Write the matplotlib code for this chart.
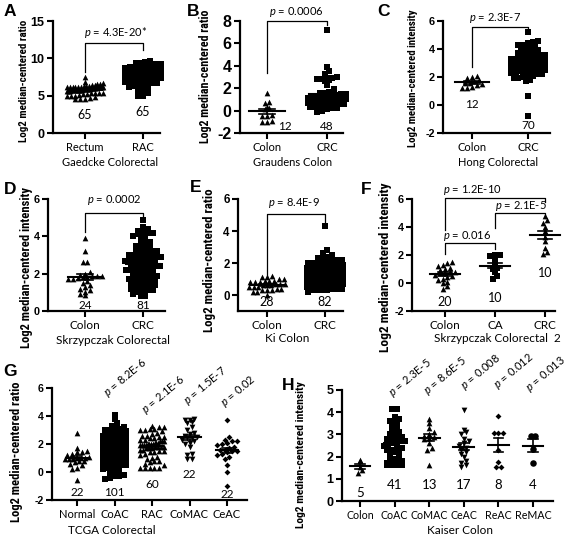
import numpy as np
import matplotlib.pyplot as plt

plt.rcParams['font.family'] = ['Lato', 'DejaVu Sans']
plt.rcParams['mathtext.fontset'] = 'custom'
plt.rcParams['mathtext.rm'] = 'Lato'
plt.rcParams['mathtext.it'] = 'Lato:italic'
plt.rcParams['mathtext.bf'] = 'Lato:bold'

# ---------------- data ----------------
A_groups = ['Rectum', 'RAC']
A_rectum = [7.5, 6.8, 6.7, 6.6, 6.5, 6.4, 6.4, 6.3, 6.3, 6.3, 6.2, 6.2, 6.2, 6.2, 6.2, 6.2,
            6.1, 6.1, 6.1, 6.1, 6.1, 6.1, 6.0, 6.0, 6.0, 6.0, 6.0, 6.0, 5.9, 5.9, 5.9, 5.9,
            5.9, 5.9, 5.9, 5.8, 5.8, 5.8, 5.8, 5.8, 5.8, 5.7, 5.7, 5.7, 5.7, 5.7, 5.6, 5.6,
            5.6, 5.6, 5.4, 5.4, 5.4, 5.3, 5.2, 5.2, 5.1, 5.0, 5.0, 4.9, 4.8, 4.7, 4.6, 4.6, 4.5]
A_rac = [9.6, 9.5, 9.4, 9.4, 9.3, 9.3, 9.3, 9.2, 9.2, 9.2, 9.1, 9.0, 9.0, 9.0, 8.9, 8.8,
         8.8, 8.7, 8.7, 8.6, 8.6, 8.5, 8.5, 8.4, 8.4, 8.3, 8.3, 8.2, 8.2, 8.1, 8.0, 8.0,
         7.9, 7.9, 7.8, 7.8, 7.7, 7.6, 7.6, 7.5, 7.5, 7.4, 7.3, 7.3, 7.2, 7.1, 7.1, 7.0,
         7.0, 6.9, 6.8, 6.7, 6.7, 6.6, 6.5, 6.4, 6.3, 6.2, 6.0, 5.8, 5.6, 5.3, 5.0, 4.9, 8.0]

B_groups = ['Colon', 'CRC']
B_colon = [1.6, 0.8, 0.7, 0.3, 0.2, 0.1, -0.5, -0.5, -0.4, -1.0, -1.0, -0.9]
B_crc = [7.2, 3.9, 3.5, 3.3, 3.0, 2.9, 2.9, 2.8, 2.8, 2.7, 2.6, 2.3, 1.9, 1.6, 1.4, 1.2,
         1.1, 1.0, 0.9, 0.8, 1.7, 1.6, 1.5, 1.5, 1.4, 1.3, 1.3, 1.2, 1.1, 1.0, 1.0, 0.9,
         0.9, 0.8, 0.7, 0.6, 0.6, 0.5, 0.4, 0.4, 0.3, 0.3, 0.3, 0.2, 0.2, 0.1, 0.0, -0.1]

C_groups = ['Colon', 'CRC']
C_colon = [2.1, 2.0, 1.9, 1.8, 1.7, 1.6, 1.6, 1.5, 1.4, 1.3, 1.2, 1.2]
C_crc = [5.2, 4.6, 4.5, 4.4, 4.3, 4.3, 4.2, 4.1, 4.0, 4.0, 3.9, 3.8, 3.8, 3.7, 3.6, 3.6,
         3.5, 3.5, 3.4, 3.4, 3.3, 3.3, 3.3, 3.2, 3.2, 3.2, 3.1, 3.1, 3.1, 3.1, 3.0, 3.0,
         3.0, 3.0, 2.9, 2.9, 2.9, 2.9, 2.8, 2.8, 2.8, 2.8, 2.7, 2.7, 2.7, 2.7, 2.6, 2.6,
         2.6, 2.5, 2.5, 2.5, 2.4, 2.4, 2.3, 2.3, 2.2, 2.2, 2.1, 2.0, 1.9, 1.8, 1.7, 1.9,
         2.1, 2.4, 3.5, 3.8, 0.65, -0.8]

D_groups = ['Colon', 'CRC']
D_colon = [3.9, 3.2, 2.6, 2.6, 2.1, 2.0, 1.95, 1.9, 1.9, 1.85, 1.8, 1.8, 1.75, 1.7, 1.7,
           1.6, 1.5, 1.4, 1.3, 1.2, 1.1, 1.0, 0.9, 0.85]
D_crc = [4.9, 4.5, 4.4, 4.3, 4.3, 4.2, 4.2, 4.1, 4.1, 4.0, 3.9, 3.8, 3.7, 3.6, 3.5, 3.5,
         3.4, 3.4, 3.3, 3.3, 3.2, 3.2, 3.1, 3.1, 3.0, 3.0, 3.0, 2.9, 2.9, 2.9, 2.8, 2.8,
         2.8, 2.7, 2.7, 2.7, 2.6, 2.6, 2.6, 2.5, 2.5, 2.5, 2.4, 2.4, 2.4, 2.3, 2.3, 2.3,
         2.2, 2.2, 2.1, 2.1, 2.0, 2.0, 2.0, 1.9, 1.9, 1.8, 1.8, 1.8, 1.7, 1.7, 1.6, 1.6,
         1.6, 1.5, 1.5, 1.5, 1.4, 1.4, 1.3, 1.3, 1.2, 1.2, 1.1, 1.1, 1.0, 1.0, 0.9, 0.8, 0.8]

E_groups = ['Colon', 'CRC']
E_colon = [1.2, 1.1, 1.1, 1.0, 1.0, 0.9, 0.9, 0.9, 0.8, 0.8, 0.8, 0.7, 0.7, 0.7, 0.6, 0.6,
           0.6, 0.5, 0.5, 0.5, 0.4, 0.4, 0.3, 0.3, 0.3, 0.2, 0.2, 0.0]
E_crc = [4.3, 2.8, 2.6, 2.5, 2.4, 2.3, 2.3, 2.2, 2.2, 2.2, 2.1, 2.1, 2.0, 2.0, 2.0, 1.9,
         1.9, 1.9, 1.8, 1.8, 1.8, 1.8, 1.7, 1.7, 1.7, 1.7, 1.6, 1.6, 1.6, 1.6, 1.5, 1.5,
         1.5, 1.5, 1.5, 1.4, 1.4, 1.4, 1.4, 1.4, 1.3, 1.3, 1.3, 1.3, 1.2, 1.2, 1.2, 1.2,
         1.1, 1.1, 1.1, 1.1, 1.0, 1.0, 1.0, 1.0, 0.9, 0.9, 0.9, 0.9, 0.8, 0.8, 0.8, 0.7,
         0.7, 0.7, 0.7, 0.6, 0.6, 0.6, 0.6, 0.5, 0.5, 0.5, 0.4, 0.4, 0.4, 0.3, 0.3, 0.3,
         0.3, 0.2]

F_groups = ['Colon', 'CA', 'CRC']
F_colon = [1.5, 1.4, 1.3, 1.2, 1.1, 1.0, 0.9, 0.8, 0.8, 0.7, 0.7, 0.6, 0.5, 0.4, 0.3,
           0.2, 0.1, 0.0, -0.2, -0.4]
F_ca = [2.0, 2.0, 1.9, 1.6, 1.3, 1.1, 1.0, 0.8, 0.5, 0.3]
F_crc = [4.8, 4.5, 4.3, 4.0, 3.7, 3.3, 3.0, 2.5, 2.2, 2.1]

G_groups = ['Normal', 'CoAC', 'RAC', 'CoMAC', 'CeAC']
G_normal = [2.8, 1.7, 1.5, 1.4, 1.4, 1.3, 1.2, 1.1, 1.0, 1.0, 1.0, 0.9, 0.9, 0.9, 0.8, 0.8,
            0.7, 0.6, 0.5, 0.3, 0.2, -0.6]
G_coac = [4.1, 3.8, 3.5, 3.3, 3.2, 3.1, 3.1, 3.0, 3.0, 2.9, 2.9, 2.8, 2.8, 2.7, 2.7, 2.6,
          2.6, 2.5, 2.5, 2.5, 2.4, 2.4, 2.4, 2.3, 2.3, 2.3, 2.2, 2.2, 2.2, 2.2, 2.1, 2.1,
          2.1, 2.1, 2.0, 2.0, 2.0, 2.0, 1.9, 1.9, 1.9, 1.9, 1.9, 1.8, 1.8, 1.8, 1.8, 1.8,
          1.7, 1.7, 1.7, 1.7, 1.7, 1.6, 1.6, 1.6, 1.6, 1.5, 1.5, 1.5, 1.5, 1.4, 1.4, 1.4,
          1.4, 1.3, 1.3, 1.3, 1.2, 1.2, 1.2, 1.1, 1.1, 1.1, 1.0, 1.0, 1.0, 0.9, 0.9, 0.8,
          0.8, 0.8, 0.7, 0.7, 0.6, 0.6, 0.5, 0.5, 0.4, 0.3, 0.3, 0.2, 0.1, 0.0, -0.1, -0.2,
          -0.3, -0.3, -0.5, -0.4, 2.9]
G_rac = [3.3, 3.2, 3.2, 3.1, 3.1, 3.0, 3.0, 2.9, 2.8, 2.7, 2.6, 2.6, 2.5, 2.5, 2.4, 2.4,
         2.3, 2.3, 2.2, 2.2, 2.2, 2.1, 2.1, 2.1, 2.0, 2.0, 2.0, 2.0, 1.9, 1.9, 1.9, 1.9,
         1.8, 1.8, 1.8, 1.8, 1.7, 1.7, 1.7, 1.6, 1.6, 1.5, 1.5, 1.4, 1.4, 1.3, 1.2, 1.1,
         1.0, 0.9, 0.8, 0.8, 0.7, 0.6, 0.5, 0.3, 0.3, 0.3, 0.3, 0.3]
G_comac = [3.8, 3.7, 3.7, 3.6, 3.5, 3.2, 3.0, 2.8, 2.7, 2.6, 2.5, 2.4, 2.4, 2.3, 2.2, 2.1,
           2.0, 1.8, 1.3, 1.2, 0.9, 0.9]
G_ceac = [3.7, 2.5, 2.3, 2.2, 2.2, 2.1, 2.0, 1.9, 1.8, 1.7, 1.6, 1.6, 1.5, 1.5, 1.4, 1.3,
          1.2, 1.1, 0.9, 0.5, 0.0, -1.0]

H_groups = ['Colon', 'CoAC', 'CoMAC', 'CeAC', 'ReAC', 'ReMAC']
H_colon = [1.85, 1.8, 1.55, 1.4, 1.25]
H_coac = [4.15, 4.15, 3.8, 3.7, 3.65, 3.6, 3.5, 3.4, 3.3, 3.2, 3.1, 3.0, 3.0, 2.9, 2.9,
          2.8, 2.8, 2.7, 2.7, 2.6, 2.6, 2.5, 2.5, 2.4, 2.4, 2.3, 2.3, 2.2, 2.2, 2.1, 2.0,
          1.9, 1.9, 1.8, 1.8, 1.7, 1.7, 1.6, 1.6, 1.6, 1.6]
H_comac = [3.7, 3.5, 3.3, 3.1, 3.0, 2.95, 2.9, 2.85, 2.8, 2.6, 2.4, 2.3, 1.6]
H_ceac = [4.1, 3.2, 3.1, 3.0, 2.8, 2.7, 2.6, 2.5, 2.4, 2.3, 2.2, 2.1, 2.0, 1.8, 1.7, 1.6, 1.55]
H_reac = [3.85, 3.05, 3.05, 3.05, 2.3, 1.75, 1.55, 1.55]
H_remac = [2.95, 2.95, 2.35, 1.7]

# ---------------- layout (pixels of a 569x536 canvas) ----------------
W, H = 569, 536
fig = plt.figure(figsize=(W / 100, H / 100), dpi=100)
YLAB_FONT = ['Roboto Condensed', 'Liberation Sans Narrow', 'DejaVu Sans']

panels = [
    dict(letter='A', lp=(10, 12), box=(53, 21, 160, 133), p0=85, step=58, ylim=(0, 15),
         yticks=[0, 5, 10, 15], ysize=9, groups=A_groups, data=[A_rectum, A_rac],
         markers=['^', 's'], nlab=[(0, 2.4), (0, 2.8)], nsize=9,
         ylabel='Log2 median-centered ratio', yl=(24, 81, 123),
         xlabel='Gaedcke Colorectal', xl=(110, 162), xsize=8, xlsize=8,
         brackets=[(0, 1, 8.2, 12.0, 11.1)], ptext=[(0.52, 13.4, '$p$ = 4.3E-20*')]),
    dict(letter='B', lp=(193, 12), box=(240, 21, 343, 133), p0=267, step=60, ylim=(-2, 8),
         yticks=[-2, 0, 2, 4, 6, 8], ysize=11.5, groups=B_groups, data=[B_colon, B_crc],
         markers=['^', 's'], nlab=[(0.3, -1.4), (0, -1.4)], nsize=8.5,
         ylabel='Log2 median-centered ratio', yl=(205, 76, 134),
         xlabel='Graudens Colon', xl=(293, 162), xsize=8, xlsize=8,
         brackets=[(0, 1, 3.36, 8.0, 7.6)], ptext=[(0.48, 8.8, '$p$ = 0.0006')]),
    dict(letter='C', lp=(383, 12), box=(443, 21, 550, 133), p0=472, step=56, ylim=(-2, 6),
         yticks=[-2, 0, 2, 4, 6], ysize=7.8, groups=C_groups, data=[C_colon, C_crc],
         markers=['^', 's'], nlab=[(0, 0.0), (0, -1.43)], nsize=8.5,
         ylabel='Log2 median-centered intensity', yl=(413, 78, 139),
         xlabel='Hong Colorectal', xl=(498, 162), xsize=8, xlsize=8,
         brackets=[(0, 1, 2.71, 5.57, 5.2)], ptext=[(0.41, 6.2, '$p$ = 2.3E-7')]),
    dict(letter='D', lp=(10, 189), box=(48, 199, 165, 311), p0=85, step=58, ylim=(0, 6),
         yticks=[0, 2, 4, 6], ysize=7.8, groups=D_groups, data=[D_colon, D_crc],
         markers=['^', 's'], nlab=[(0, 0.27), (0, 0.27)], nsize=8.5,
         ylabel='Log2 median-centered intensity', yl=(27, 267, 161),
         xlabel='Skrzypczak Colorectal', xl=(113, 340), xsize=8.5, xlsize=8.5,
         brackets=[(0, 1, 4.23, 5.25, 4.98)], ptext=[(0.5, 5.95, '$p$ = 0.0002')]),
    dict(letter='E', lp=(196, 188), box=(238, 199, 343, 311), p0=267, step=58, ylim=(-1, 6),
         yticks=[0, 2, 4, 6], ysize=8.3, groups=E_groups, data=[E_colon, E_crc],
         markers=['^', 's'], nlab=[(0, -0.44), (0, -0.44)], nsize=9,
         ylabel='Log2 median-centered ratio', yl=(210, 260, 144),
         xlabel='Ki Colon', xl=(287, 339), xsize=8.5, xlsize=8.5,
         brackets=[(0, 1, 1.06, 5.06, 4.375)], ptext=[(0.47, 5.75, '$p$ = 8.4E-9')]),
    dict(letter='F', lp=(366, 189), box=(412, 199, 555, 311), p0=445, step=50, ylim=(-2, 6),
         yticks=[-2, 0, 2, 4, 6], ysize=7.8, groups=F_groups, data=[F_colon, F_ca, F_crc],
         markers=['^', 's', '^'], nlab=[(0, -1.36), (0, -1.07), (0, 0.71)], nsize=9,
         ylabel='Log2 median-centered intensity', yl=(386, 267, 170),
         xlabel='Skrzypczak Colorectal  2', xl=(497, 339), xsize=8.5, xlsize=8.5,
         brackets=[(0, 1, 2.07, 2.86, 2.43), (0, 2, 3.79, 6.07, 5.79), (1, 2, 3.93, 5.0, 4.64)],
         ptext=[(0.44, 3.36, '$p$ = 0.016'), (0.54, 6.64, '$p$ = 1.2E-10'),
                (1.52, 5.5, '$p$ = 2.1E-5')]),
    dict(letter='G', lp=(10, 372), box=(52, 388, 247, 500), p0=77, step=37.5, ylim=(-2, 6),
         yticks=[-2, 0, 2, 4, 6], ysize=7.6, groups=G_groups,
         data=[G_normal, G_coac, G_rac, G_comac, G_ceac],
         markers=['^', 's', '^', 'v', 'D'],
         nlab=[(0, -1.5), (0, -1.5), (0, -0.86), (0, -0.21), (0, -1.64)], nsize=8.5,
         ylabel='Log2 median-centered ratio', yl=(17, 452, 140),
         xlabel='TCGA Colorectal', xl=(112, 530), xsize=8, xlsize=8.5,
         brackets=[], ptext=[],
         rot=[(0.88, 5.14, '$p$ = 8.2E-6'), (1.89, 3.93, '$p$ = 2.1E-6'),
              (3.0, 4.57, '$p$ = 1.5E-7'), (4.0, 4.43, '$p$ = 0.02')]),
    dict(letter='H', lp=(288, 385), box=(342, 390, 553, 501), p0=360, step=34.6, ylim=(0, 5),
         yticks=[0, 1, 2, 3, 4, 5], ysize=9, groups=H_groups,
         data=[H_colon, H_coac, H_comac, H_ceac, H_reac, H_remac],
         markers=['^', 's', '^', 'v', 'D', 'o'],
         nlab=[(0, 0.36), (0, 0.72), (0, 0.72), (0, 0.72), (0, 0.72), (0, 0.72)], nsize=9.5,
         ylabel='Log2 median-centered intensity', yl=(301, 455, 146),
         xlabel='Kaiser Colon', xl=(460, 530), xsize=7.7, xlsize=8.5,
         brackets=[], ptext=[],
         rot=[(1.01, 4.55, '$p$ = 2.3E-5'), (2.02, 4.64, '$p$ = 8.6E-5'),
              (3.09, 4.86, '$p$ = 0.008'), (4.05, 4.91, '$p$ = 0.012'),
              (4.97, 4.77, '$p$ = 0.013')]),
]

MSIZE = {'s': 13, '^': 17, 'v': 17, 'D': 9, 'o': 22}
renderer = fig.canvas.get_renderer()


def swarm(ax, xc, vals, marker, px_x, px_y, max_w, mk=4.8):
    vals = np.asarray(vals, float)
    rows = np.round(vals * px_y / mk).astype(int)
    xs = np.empty_like(vals)
    for r in np.unique(rows):
        idx = np.where(rows == r)[0]
        idx = idx[np.argsort(vals[idx])]
        n = len(idx)
        gap = min(mk, max_w / (n - 1)) if n > 1 else 0
        xs[idx] = xc + (np.arange(n) - (n - 1) / 2) * gap / px_x
    ax.scatter(xs, vals, marker=marker, s=MSIZE[marker], color='black',
               linewidths=0, zorder=3, clip_on=False)
    m = vals.mean()
    se = vals.std(ddof=1) / np.sqrt(len(vals))
    hw, cw = 0.3, 0.14
    ax.plot([xc - hw, xc + hw], [m, m], color='black', lw=1.5, zorder=4, clip_on=False)
    ax.plot([xc, xc], [m - se, m + se], color='black', lw=1.2, zorder=4, clip_on=False)
    for yy in (m - se, m + se):
        ax.plot([xc - cw, xc + cw], [yy, yy], color='black', lw=1.2, zorder=4, clip_on=False)


for p in panels:
    l, t, r, b = p['box']
    ax = fig.add_axes([l / W, 1 - b / H, (r - l) / W, (b - t) / H])
    ax.patch.set_visible(False)
    ax.set_xlim((l - p['p0']) / p['step'], (r - p['p0']) / p['step'])
    ax.set_ylim(p['ylim'])
    for s in ['top', 'right']:
        ax.spines[s].set_visible(False)
    for s in ['left', 'bottom']:
        ax.spines[s].set_linewidth(1.6)
    ax.tick_params(direction='out', length=4, width=1.5, pad=2)
    ax.tick_params(axis='x', pad=2.5)
    ax.set_yticks(p['yticks'])
    ax.set_yticklabels([str(v) for v in p['yticks']], family='Liberation Sans',
                       fontweight='bold', fontsize=p['ysize'])
    ax.set_xticks(range(len(p['groups'])))
    ax.set_xticklabels(p['groups'], fontsize=p['xsize'])

    px_x = p['step']
    px_y = (b - t) / (p['ylim'][1] - p['ylim'][0])
    for i, (vals, mk) in enumerate(zip(p['data'], p['markers'])):
        swarm(ax, i, vals, mk, px_x, px_y, max_w=0.62 * p['step'])
        dx, ny = p['nlab'][i]
        ax.text(i + dx, ny, str(len(vals)), ha='center', va='center', fontsize=p['nsize'])

    for (x1, x2, yl1, ytop, yl2) in p['brackets']:
        ax.plot([x1, x1, x2, x2], [yl1, ytop, ytop, yl2], color='black', lw=0.9,
                clip_on=False)
    for (x, y, s) in p['ptext']:
        ax.text(x, y, s, ha='center', va='center', fontsize=8, clip_on=False)
    for (x, y, s) in p.get('rot', []):
        ax.text(x, y, s, ha='left', va='bottom', rotation=40, rotation_mode='anchor',
                fontsize=8, clip_on=False)

    # panel letter, dataset name, y label
    fig.text(p['lp'][0] / W, 1 - p['lp'][1] / H, p['letter'], family='Liberation Sans',
             fontweight='bold', fontsize=12.5, ha='center', va='center')
    fig.text(p['xl'][0] / W, 1 - p['xl'][1] / H, p['xlabel'], fontsize=p['xlsize'],
             ha='center', va='center')
    cx, cy, length = p['yl']
    yt = fig.text(cx / W, 1 - cy / H, p['ylabel'], rotation=90, ha='center', va='center',
                  family=YLAB_FONT, fontweight='bold', fontstretch='condensed', fontsize=8)
    ext = yt.get_window_extent(renderer)
    yt.set_fontsize(8 * length / ext.height)

fig.savefig('out.png', dpi=100)
